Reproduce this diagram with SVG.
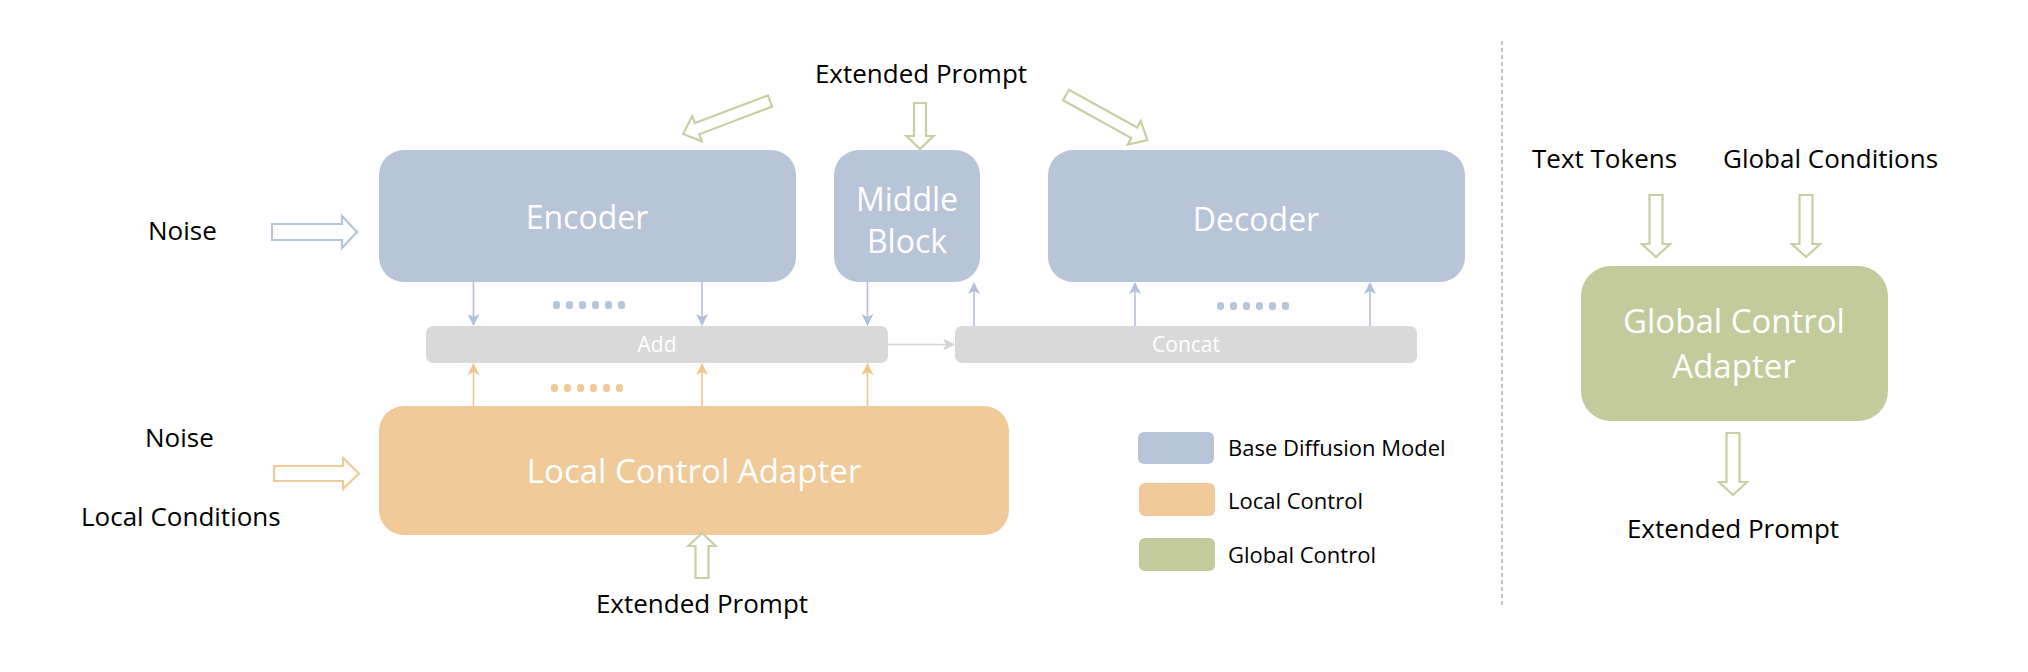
<svg xmlns="http://www.w3.org/2000/svg" width="2028" height="672" viewBox="0 0 2028 672">
<defs>
<style>
.lbl{font-family:"Open Sans","Liberation Sans",sans-serif;font-size:26px;fill:#000}
.box{font-family:"Open Sans","Liberation Sans",sans-serif;font-size:32px;fill:#fff;text-anchor:middle}
.bar{font-family:"Open Sans","Liberation Sans",sans-serif;font-size:21px;fill:#fff;text-anchor:middle}
.leg{font-family:"Open Sans","Liberation Sans",sans-serif;font-size:22px;fill:#000}
.blue{fill:#b8c4d8}
.orange{fill:#f0ca99}
.green{fill:#c3cb9c}
.gray{fill:#d9d9d9}
.bigG{fill:#fff;stroke:#c8cfa2;stroke-width:2.2;stroke-linejoin:miter}
.bigB{fill:#fff;stroke:#b8c4d8;stroke-width:2.2}
.bigO{fill:#fff;stroke:#f0ca99;stroke-width:2.2}
.lnB{stroke:#b4c1d7;stroke-width:1.6;fill:none}
.lnO{stroke:#f0c68f;stroke-width:1.6;fill:none}
.lnG{stroke:#d4d4d4;stroke-width:1.6;fill:none}
</style>
<marker id="mB" viewBox="0 0 12 12" refX="11" refY="6" markerWidth="12" markerHeight="12" markerUnits="userSpaceOnUse" orient="auto">
<path d="M0,0 L12,6 L0,12 L3,6 Z" fill="#b4c1d7"/>
</marker>
<marker id="mO" viewBox="0 0 12 12" refX="11" refY="6" markerWidth="12" markerHeight="12" markerUnits="userSpaceOnUse" orient="auto">
<path d="M0,0 L12,6 L0,12 L3,6 Z" fill="#f0c68f"/>
</marker>
<marker id="mG" viewBox="0 0 12 12" refX="11" refY="6" markerWidth="12" markerHeight="12" markerUnits="userSpaceOnUse" orient="auto">
<path d="M0,0 L12,6 L0,12 L3,6 Z" fill="#d4d4d4"/>
</marker>
</defs>
<rect width="2028" height="672" fill="#fff"/>

<g id="encoder">
<rect x="379" y="150" width="417" height="132" rx="25" class="blue"/>
<text x="587" y="229" class="box">Encoder</text>
</g>
<g id="middle-block">
<rect x="834" y="150" width="146" height="132" rx="25" class="blue"/>
<text x="907" y="211" class="box">Middle</text>
<text x="907" y="253" class="box">Block</text>
</g>
<g id="decoder">
<rect x="1048" y="150" width="417" height="132" rx="25" class="blue"/>
<text x="1256" y="231" class="box">Decoder</text>
</g>
<g id="add">
<rect x="426" y="326" width="462" height="37" rx="7" class="gray"/>
<text x="657" y="352" class="bar">Add</text>
</g>
<g id="concat">
<rect x="955" y="326" width="462" height="37" rx="7" class="gray"/>
<text x="1186" y="352" class="bar">Concat</text>
</g>
<g id="local-control-adapter">
<rect x="379" y="406" width="630" height="129" rx="25" class="orange"/>
<text x="694" y="483" class="box" style="font-size:33px">Local Control Adapter</text>
</g>
<g id="global-control-adapter">
<rect x="1581" y="266" width="307" height="155" rx="30" class="green"/>
<text x="1734" y="333" class="box" style="font-size:33px">Global Control</text>
<text x="1734" y="378" class="box" style="font-size:33px">Adapter</text>
</g>

<g id="labels">
<text x="148" y="240" class="lbl">Noise</text>
<text x="145" y="447" class="lbl">Noise</text>
<text x="81" y="526" class="lbl">Local Conditions</text>
<text x="921" y="83" class="lbl" text-anchor="middle">Extended Prompt</text>
<text x="702" y="613" class="lbl" text-anchor="middle">Extended Prompt</text>
<text x="1532" y="168" class="lbl">Text Tokens</text>
<text x="1723" y="168" class="lbl">Global Conditions</text>
<text x="1733" y="538" class="lbl" text-anchor="middle">Extended Prompt</text>
</g>

<g id="legend">
<rect x="1138" y="432" width="76" height="32" rx="6" class="blue"/>
<text x="1228" y="456" class="leg">Base Diffusion Model</text>
<rect x="1139" y="483" width="76" height="33" rx="6" class="orange"/>
<text x="1228" y="509" class="leg">Local Control</text>
<rect x="1139" y="538" width="76" height="33" rx="6" class="green"/>
<text x="1228" y="563" class="leg">Global Control</text>
</g>

<g id="dots">
<g class="blue">
<rect x="553" y="301" width="7" height="8" rx="3"/><rect x="566" y="301" width="7" height="8" rx="3"/><rect x="579" y="301" width="7" height="8" rx="3"/><rect x="592" y="301" width="7" height="8" rx="3"/><rect x="605" y="301" width="7" height="8" rx="3"/><rect x="618" y="301" width="7" height="8" rx="3"/>
<rect x="1217" y="302" width="7" height="8" rx="3"/><rect x="1230" y="302" width="7" height="8" rx="3"/><rect x="1243" y="302" width="7" height="8" rx="3"/><rect x="1256" y="302" width="7" height="8" rx="3"/><rect x="1269" y="302" width="7" height="8" rx="3"/><rect x="1282" y="302" width="7" height="8" rx="3"/>
</g>
<g class="orange">
<rect x="551" y="384" width="7" height="8" rx="3"/><rect x="564" y="384" width="7" height="8" rx="3"/><rect x="577" y="384" width="7" height="8" rx="3"/><rect x="590" y="384" width="7" height="8" rx="3"/><rect x="603" y="384" width="7" height="8" rx="3"/><rect x="616" y="384" width="7" height="8" rx="3"/>
</g>
</g>

<g id="connectors">
<line x1="473.5" y1="282" x2="473.5" y2="325" class="lnB" marker-end="url(#mB)"/>
<line x1="702" y1="282" x2="702" y2="325" class="lnB" marker-end="url(#mB)"/>
<line x1="867.5" y1="282" x2="867.5" y2="325" class="lnB" marker-end="url(#mB)"/>
<line x1="974" y1="326" x2="974" y2="283" class="lnB" marker-end="url(#mB)"/>
<line x1="1135" y1="326" x2="1135" y2="283" class="lnB" marker-end="url(#mB)"/>
<line x1="1370" y1="326" x2="1370" y2="283" class="lnB" marker-end="url(#mB)"/>
<line x1="473.5" y1="406" x2="473.5" y2="364" class="lnO" marker-end="url(#mO)"/>
<line x1="702" y1="406" x2="702" y2="364" class="lnO" marker-end="url(#mO)"/>
<line x1="867.5" y1="406" x2="867.5" y2="364" class="lnO" marker-end="url(#mO)"/>
<line x1="888" y1="344.5" x2="954" y2="344.5" class="lnG" marker-end="url(#mG)"/>

<path transform="translate(272,232)" class="bigB" d="M0,-8 L70,-8 L70,-16 L85,0 L70,16 L70,8 L0,8 Z"/>
<path transform="translate(274,473.5)" class="bigO" d="M0,-7.5 L69,-7.5 L69,-15.5 L85,0 L69,15.5 L69,7.5 L0,7.5 Z"/>
<path transform="translate(920,103) rotate(90)" class="bigG" d="M0,-6 L33,-6 L33,-13.5 L46,0 L33,13.5 L33,6 L0,6 Z"/>
<path transform="translate(770,101) rotate(159.2)" class="bigG" d="M0,-6 L78,-6 L78,-13.5 L93,0 L78,13.5 L78,6 L0,6 Z"/>
<path transform="translate(1066,95) rotate(29)" class="bigG" d="M0,-6 L78,-6 L78,-13.5 L93,0 L78,13.5 L78,6 L0,6 Z"/>
<path transform="translate(702,578) rotate(-90)" class="bigG" d="M0,-6.5 L32,-6.5 L32,-13.7 L45,0 L32,13.7 L32,6.5 L0,6.5 Z"/>
<path transform="translate(1656,195) rotate(90)" class="bigG" d="M0,-6.5 L49,-6.5 L49,-14 L62,0 L49,14 L49,6.5 L0,6.5 Z"/>
<path transform="translate(1806,195) rotate(90)" class="bigG" d="M0,-6.5 L49,-6.5 L49,-14 L62,0 L49,14 L49,6.5 L0,6.5 Z"/>
<path transform="translate(1733,433) rotate(90)" class="bigG" d="M0,-6.5 L49,-6.5 L49,-14 L62,0 L49,14 L49,6.5 L0,6.5 Z"/>
</g>

<line id="divider" x1="1502" y1="41" x2="1502" y2="605" stroke="#b4b4b4" stroke-width="1.5" stroke-dasharray="4 3"/>
</svg>
